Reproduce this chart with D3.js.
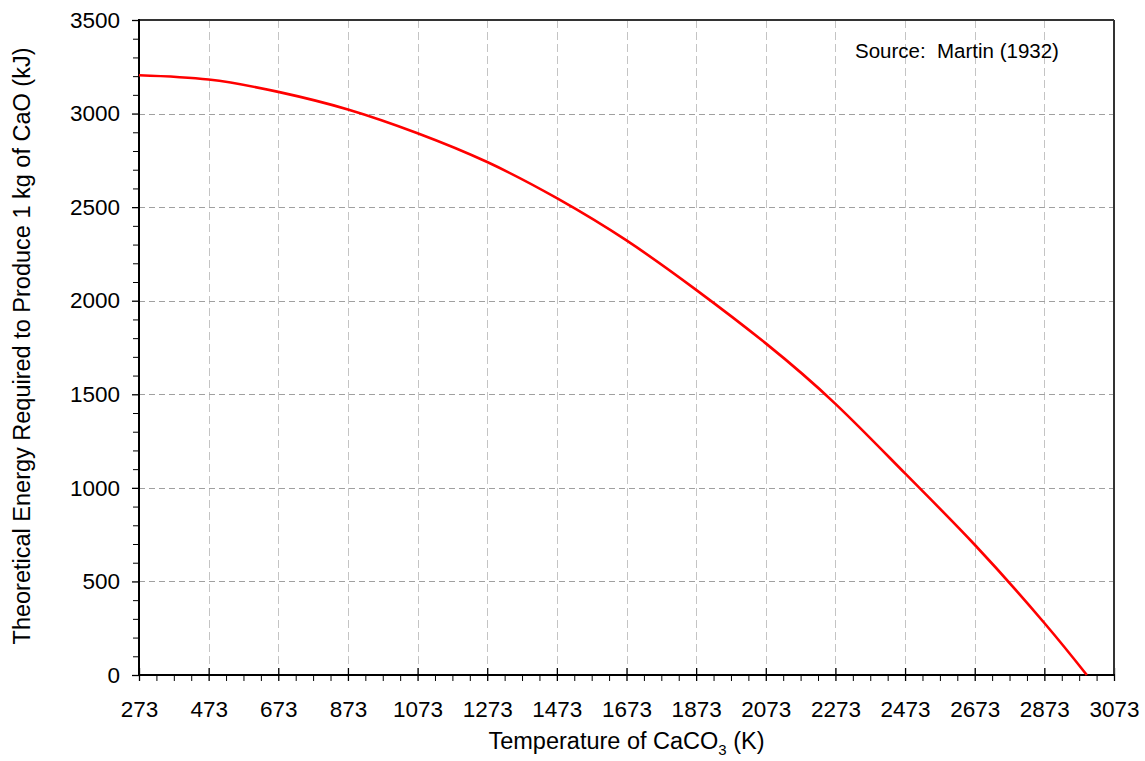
<!DOCTYPE html>
<html>
<head>
<meta charset="utf-8">
<script src="https://cdn.jsdelivr.net/npm/d3@7"></script>
<style>
  html, body { margin: 0; padding: 0; background: #fff; }
  svg { display: block; font-family: "Liberation Sans", Arial, sans-serif; }
</style>
</head>
<body>
<svg id="chart" width="1145" height="761"></svg>
<script>
// Temperature of CaCO3 (K) and theoretical energy (kJ per kg CaO)
const temperatures = [273, 473, 673, 873, 1073, 1273, 1473, 1673, 1873, 2073, 2273, 2473, 2673, 2873, 2995];
const energies     = [3205, 3182, 3116, 3022, 2895, 2741, 2548, 2322, 2058, 1772, 1449, 1077, 696, 278, 0];

const xTickValues = [273, 473, 673, 873, 1073, 1273, 1473, 1673, 1873, 2073, 2273, 2473, 2673, 2873, 3073];
const yTickValues = [0, 500, 1000, 1500, 2000, 2500, 3000, 3500];
const sourceNote = "Source:  Martin (1932)";

const W = 1145, H = 761;
const margin = { top: 20, right: 31, bottom: 86, left: 139 };
const iw = W - margin.left - margin.right;
const ih = H - margin.top - margin.bottom;

const svg = d3.select("#chart");
const g = svg.append("g").attr("transform", `translate(${margin.left},${margin.top})`);

const x = d3.scaleLinear().domain([273, 3073]).range([0, iw]);
const y = d3.scaleLinear().domain([0, 3500]).range([ih, 0]);

// grid
g.append("g").selectAll("line")
  .data(xTickValues.slice(1, -1))
  .join("line")
  .attr("x1", d => Math.round(x(d)) + 0.5).attr("x2", d => Math.round(x(d)) + 0.5)
  .attr("y1", 0).attr("y2", ih)
  .attr("stroke", "#c4c4c4").attr("stroke-width", 1)
  .attr("stroke-dasharray", "8,4");

g.append("g").selectAll("line")
  .data(yTickValues.slice(1, -1))
  .join("line")
  .attr("y1", d => Math.round(y(d)) + 0.5).attr("y2", d => Math.round(y(d)) + 0.5)
  .attr("x1", 0).attr("x2", iw)
  .attr("stroke", "#a0a0a0").attr("stroke-width", 1)
  .attr("stroke-dasharray", "6,4");

// minor ticks
const xMinor = d3.range(273, 3073 + 1, 50).filter(v => (v - 273) % 200 !== 0);
const yMinor = d3.range(0, 3501, 100).filter(v => v % 500 !== 0);

const xm = g.append("g").attr("transform", `translate(0,${ih})`)
  .call(d3.axisBottom(x).tickValues(xMinor).tickSize(6).tickFormat(""));
const ym = g.append("g")
  .call(d3.axisLeft(y).tickValues(yMinor).tickSize(6).tickFormat(""));
[xm, ym].forEach(a => {
  a.select(".domain").remove();
  a.selectAll("line").attr("stroke", "#000").attr("stroke-width", 1);
});

// major axes
const xAxis = d3.axisBottom(x).tickValues(xTickValues).tickSizeInner(6).tickSizeOuter(0).tickPadding(20).tickFormat(d3.format("d"));
const yAxis = d3.axisLeft(y).tickValues(yTickValues).tickSizeInner(7).tickSizeOuter(0).tickPadding(12).tickFormat(d3.format("d"));

const xa = g.append("g").attr("transform", `translate(0,${ih})`).call(xAxis);
const ya = g.append("g").call(yAxis);
[xa, ya].forEach(a => {
  a.select(".domain").remove();
  a.selectAll("line").attr("stroke", "#000").attr("stroke-width", 1.3);
  a.selectAll("text").attr("fill", "#000").style("font-size", "22.5px")
    .style("font-family", '"Liberation Sans", Arial, sans-serif');
});
// major x ticks also reach into the plot
xa.selectAll(".tick line").attr("y1", -7);

// frame
g.append("line").attr("x1", 0).attr("x2", iw).attr("y1", 0).attr("y2", 0)
  .attr("stroke", "#333").attr("stroke-width", 2);
g.append("line").attr("x1", iw).attr("x2", iw).attr("y1", 0).attr("y2", ih)
  .attr("stroke", "#333").attr("stroke-width", 2);
g.append("line").attr("x1", 0).attr("x2", 0).attr("y1", -1).attr("y2", ih + 1)
  .attr("stroke", "#000").attr("stroke-width", 2);
g.append("line").attr("x1", -1).attr("x2", iw + 1).attr("y1", ih).attr("y2", ih)
  .attr("stroke", "#000").attr("stroke-width", 2);

// curve
const line = d3.line()
  .x((d, i) => x(temperatures[i]))
  .y(d => y(d))
  .curve(d3.curveNatural);

g.append("path")
  .datum(energies)
  .attr("d", line)
  .attr("fill", "none")
  .attr("stroke", "#ff0000")
  .attr("stroke-width", 2.6);

// source note
g.append("text")
  .attr("x", 716).attr("y", 38)
  .attr("xml:space", "preserve")
  .style("white-space", "pre")
  .style("font-size", "20.5px")
  .attr("fill", "#000")
  .text(sourceNote);

// axis titles
const xt = svg.append("text")
  .attr("x", margin.left + iw / 2).attr("y", 749)
  .attr("text-anchor", "middle")
  .style("font-size", "23.5px").attr("fill", "#000");
xt.append("tspan").text("Temperature of CaCO");
xt.append("tspan").text("3").style("font-size", "15px").attr("dy", 6);
xt.append("tspan").text(" (K)").attr("dy", -6);

svg.append("text")
  .attr("transform", "translate(30,346) rotate(-90)")
  .attr("text-anchor", "middle")
  .style("font-size", "23.5px").attr("fill", "#000")
  .text("Theoretical Energy Required to Produce 1 kg of CaO (kJ)");
</script>
</body>
</html>
